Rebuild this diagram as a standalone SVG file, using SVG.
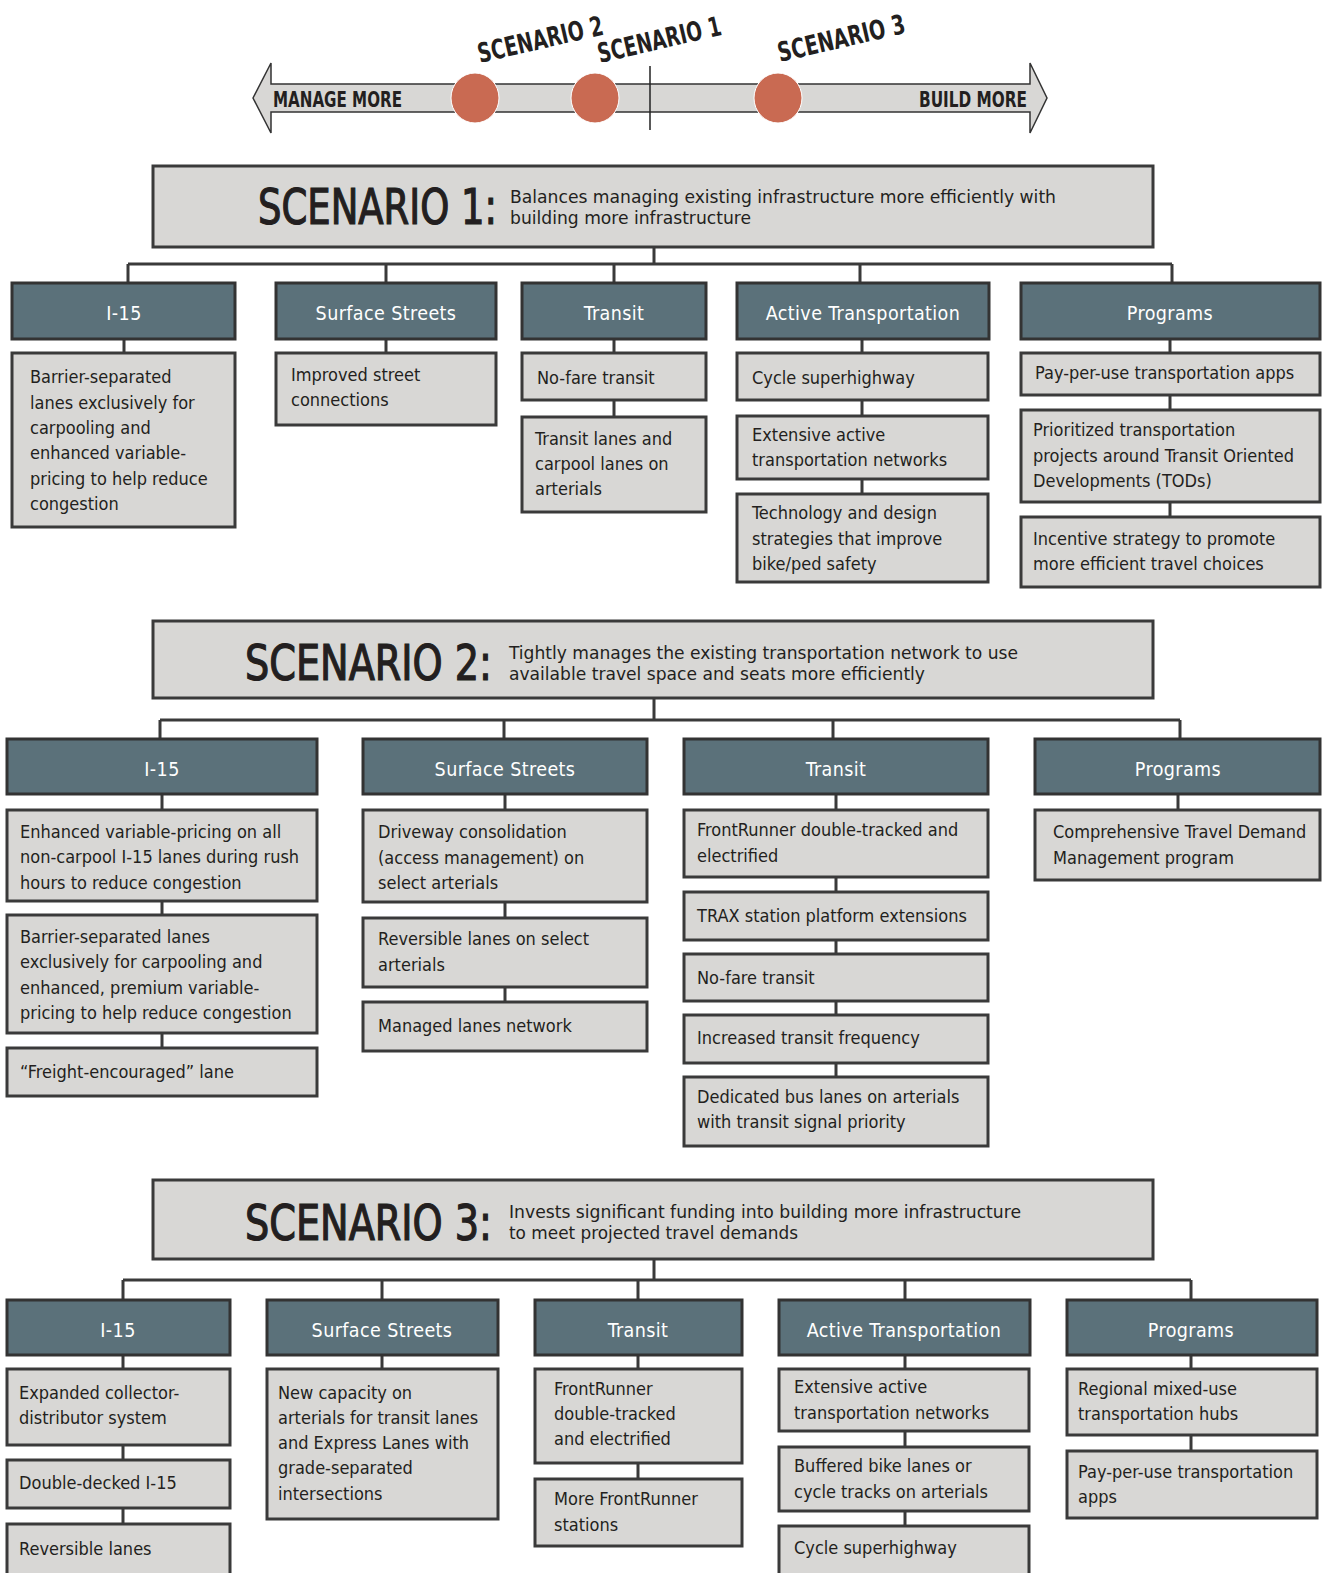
<svg xmlns="http://www.w3.org/2000/svg" width="1326" height="1573" viewBox="0 0 1326 1573">
<style>
text{font-family:"Liberation Sans Narrow","DejaVu Sans Condensed","Roboto Condensed",sans-serif;fill:#231f20}
.it rect{fill:#d8d7d5;stroke:#3a3a3a;stroke-width:3}
.it text{font-size:18px}
.hd rect{fill:#5b717a;stroke:#333;stroke-width:3}
.hd text{font-size:19.5px;fill:#fff;text-anchor:middle;letter-spacing:0.4px}
.sc rect{fill:#d8d7d5;stroke:#3a3a3a;stroke-width:3}
.big{font-size:49px;stroke:#231f20;stroke-width:1.2px}
.desc{font-size:17px}
#connectors path{stroke:#3a3a3a;stroke-width:3;fill:none}
.lab{font-size:27px;font-weight:bold}
</style>
<rect width="1326" height="1573" fill="#fff"/>
<g id="scale">
<path d="M253,98 L271,63 L271,84 L1030,84 L1030,63 L1047,98 L1030,133 L1030,112 L271,112 L271,133 Z" fill="#d8d7d5" stroke="#333" stroke-width="1.5"/>
<line x1="650" y1="66" x2="650" y2="130" stroke="#222" stroke-width="1.5"/>
<ellipse cx="475" cy="98" rx="24" ry="25" fill="#c96a52" stroke="#fff" stroke-width="1"/>
<ellipse cx="595" cy="98" rx="24" ry="25" fill="#c96a52" stroke="#fff" stroke-width="1"/>
<ellipse cx="778" cy="98" rx="24" ry="25" fill="#c96a52" stroke="#fff" stroke-width="1"/>
<text x="273" y="107" font-size="21" font-weight="bold" textLength="129" lengthAdjust="spacingAndGlyphs">MANAGE MORE</text>
<text x="919" y="107" font-size="21" font-weight="bold" textLength="108" lengthAdjust="spacingAndGlyphs">BUILD MORE</text>
<text class="lab" transform="translate(480,63) rotate(-13)" textLength="128" lengthAdjust="spacingAndGlyphs">SCENARIO 2</text>
<text class="lab" transform="translate(600,63) rotate(-13)" textLength="126" lengthAdjust="spacingAndGlyphs">SCENARIO 1</text>
<text class="lab" transform="translate(780,62) rotate(-13)" textLength="130" lengthAdjust="spacingAndGlyphs">SCENARIO 3</text>
</g>
<g id="connectors">
<path d="M654,247 V264 M128,264 H1172 M128,264 V283 M386,264 V283 M614,264 V283 M860,264 V283 M1172,264 V283"/>
<path d="M124,339 V353 M386,339 V353 M614,339 V353 M614,400 V417 M862,339 V353 M862,400 V416 M862,479 V494 M1170,339 V353 M1170,395 V410 M1170,502 V517"/>
<path d="M654,698 V720 M160,720 H1180 M160,720 V739 M504,720 V739 M833,720 V739 M1180,720 V739"/>
<path d="M162,794 V810 M162,901 V915 M162,1033 V1048 M505,794 V810 M505,902 V918 M505,987 V1002 M836,794 V810 M836,877 V892 M836,940 V954 M836,1001 V1015 M836,1063 V1077 M1178,794 V810"/>
<path d="M654,1259 V1280 M123,1280 H1191 M123,1280 V1300 M382,1280 V1300 M638,1280 V1300 M905,1280 V1300 M1191,1280 V1300"/>
<path d="M123,1355 V1369 M123,1445 V1460 M123,1508 V1524 M382,1355 V1369 M638,1355 V1369 M638,1463 V1479 M905,1355 V1369 M905,1431 V1447 M905,1511 V1526 M1191,1355 V1369 M1191,1435 V1451"/>
</g>
<!-- Scenario 1 -->
<g id="s1" class="sc"><rect x="153" y="166" width="1000" height="81"/>
<text class="big" x="258" y="224" textLength="239" lengthAdjust="spacingAndGlyphs">SCENARIO 1:</text>
<text class="desc" x="510" y="203" textLength="546" lengthAdjust="spacingAndGlyphs">Balances managing existing infrastructure more efficiently with</text>
<text class="desc" x="510" y="224" textLength="241" lengthAdjust="spacingAndGlyphs">building more infrastructure</text></g>
<g id="s1-h-i15" class="hd"><rect x="12" y="283" width="223" height="56"/><text x="124" y="320">I-15</text></g>
<g id="s1-h-ss" class="hd"><rect x="276" y="283" width="220" height="56"/><text x="386" y="320">Surface Streets</text></g>
<g id="s1-h-tr" class="hd"><rect x="522" y="283" width="184" height="56"/><text x="614" y="320">Transit</text></g>
<g id="s1-h-at" class="hd"><rect x="737" y="283" width="252" height="56"/><text x="863" y="320">Active Transportation</text></g>
<g id="s1-h-pr" class="hd"><rect x="1021" y="283" width="299" height="56"/><text x="1170" y="320">Programs</text></g>
<g id="s1-i15-1" class="it"><rect x="12" y="353" width="223" height="174"/><text x="30" y="383">Barrier-separated<tspan x="30" y="409">lanes exclusively for</tspan><tspan x="30" y="434">carpooling and</tspan><tspan x="30" y="459">enhanced variable-</tspan><tspan x="30" y="485">pricing to help reduce</tspan><tspan x="30" y="510">congestion</tspan></text></g>
<g id="s1-ss-1" class="it"><rect x="276" y="353" width="220" height="72"/><text x="291" y="381">Improved street<tspan x="291" y="406">connections</tspan></text></g>
<g id="s1-tr-1" class="it"><rect x="522" y="353" width="184" height="47"/><text x="537" y="384">No-fare transit</text></g>
<g id="s1-tr-2" class="it"><rect x="522" y="417" width="184" height="95"/><text x="535" y="445">Transit lanes and<tspan x="535" y="470">carpool lanes on</tspan><tspan x="535" y="495">arterials</tspan></text></g>
<g id="s1-at-1" class="it"><rect x="737" y="353" width="251" height="47"/><text x="752" y="384">Cycle superhighway</text></g>
<g id="s1-at-2" class="it"><rect x="737" y="416" width="251" height="63"/><text x="752" y="441">Extensive active<tspan x="752" y="466">transportation networks</tspan></text></g>
<g id="s1-at-3" class="it"><rect x="737" y="494" width="251" height="88"/><text x="752" y="519">Technology and design<tspan x="752" y="545">strategies that improve</tspan><tspan x="752" y="570">bike/ped safety</tspan></text></g>
<g id="s1-pr-1" class="it"><rect x="1021" y="353" width="299" height="42"/><text x="1035" y="379">Pay-per-use transportation apps</text></g>
<g id="s1-pr-2" class="it"><rect x="1021" y="410" width="299" height="92"/><text x="1033" y="436">Prioritized transportation<tspan x="1033" y="462">projects around Transit Oriented</tspan><tspan x="1033" y="487">Developments (TODs)</tspan></text></g>
<g id="s1-pr-3" class="it"><rect x="1021" y="517" width="299" height="70"/><text x="1033" y="545">Incentive strategy to promote<tspan x="1033" y="570">more efficient travel choices</tspan></text></g>
<!-- Scenario 2 -->
<g id="s2" class="sc"><rect x="153" y="621" width="1000" height="77"/>
<text class="big" x="245" y="680" textLength="247" lengthAdjust="spacingAndGlyphs">SCENARIO 2:</text>
<text class="desc" x="509" y="659" textLength="509" lengthAdjust="spacingAndGlyphs">Tightly manages the existing transportation network to use</text>
<text class="desc" x="509" y="680" textLength="416" lengthAdjust="spacingAndGlyphs">available travel space and seats more efficiently</text></g>
<g id="s2-h-i15" class="hd"><rect x="7" y="739" width="310" height="55"/><text x="162" y="776">I-15</text></g>
<g id="s2-h-ss" class="hd"><rect x="363" y="739" width="284" height="55"/><text x="505" y="776">Surface Streets</text></g>
<g id="s2-h-tr" class="hd"><rect x="684" y="739" width="304" height="55"/><text x="836" y="776">Transit</text></g>
<g id="s2-h-pr" class="hd"><rect x="1035" y="739" width="285" height="55"/><text x="1178" y="776">Programs</text></g>
<g id="s2-i15-1" class="it"><rect x="7" y="810" width="310" height="91"/><text x="20" y="838">Enhanced variable-pricing on all<tspan x="20" y="863">non-carpool I-15 lanes during rush</tspan><tspan x="20" y="889">hours to reduce congestion</tspan></text></g>
<g id="s2-i15-2" class="it"><rect x="7" y="915" width="310" height="118"/><text x="20" y="943">Barrier-separated lanes<tspan x="20" y="968">exclusively for carpooling and</tspan><tspan x="20" y="994">enhanced, premium variable-</tspan><tspan x="20" y="1019">pricing to help reduce congestion</tspan></text></g>
<g id="s2-i15-3" class="it"><rect x="7" y="1048" width="310" height="48"/><text x="20" y="1078">“Freight-encouraged” lane</text></g>
<g id="s2-ss-1" class="it"><rect x="363" y="810" width="284" height="92"/><text x="378" y="838">Driveway consolidation<tspan x="378" y="864">(access management) on</tspan><tspan x="378" y="889">select arterials</tspan></text></g>
<g id="s2-ss-2" class="it"><rect x="363" y="918" width="284" height="69"/><text x="378" y="945">Reversible lanes on select<tspan x="378" y="971">arterials</tspan></text></g>
<g id="s2-ss-3" class="it"><rect x="363" y="1002" width="284" height="49"/><text x="378" y="1032">Managed lanes network</text></g>
<g id="s2-tr-1" class="it"><rect x="684" y="810" width="304" height="67"/><text x="697" y="836">FrontRunner double-tracked and<tspan x="697" y="862">electrified</tspan></text></g>
<g id="s2-tr-2" class="it"><rect x="684" y="892" width="304" height="48"/><text x="697" y="922">TRAX station platform extensions</text></g>
<g id="s2-tr-3" class="it"><rect x="684" y="954" width="304" height="47"/><text x="697" y="984">No-fare transit</text></g>
<g id="s2-tr-4" class="it"><rect x="684" y="1015" width="304" height="48"/><text x="697" y="1044">Increased transit frequency</text></g>
<g id="s2-tr-5" class="it"><rect x="684" y="1077" width="304" height="69"/><text x="697" y="1103">Dedicated bus lanes on arterials<tspan x="697" y="1128">with transit signal priority</tspan></text></g>
<g id="s2-pr-1" class="it"><rect x="1035" y="810" width="285" height="70"/><text x="1053" y="838">Comprehensive Travel Demand<tspan x="1053" y="864">Management program</tspan></text></g>
<!-- Scenario 3 -->
<g id="s3" class="sc"><rect x="153" y="1180" width="1000" height="79"/>
<text class="big" x="245" y="1240" textLength="247" lengthAdjust="spacingAndGlyphs">SCENARIO 3:</text>
<text class="desc" x="509" y="1218" textLength="512" lengthAdjust="spacingAndGlyphs">Invests significant funding into building more infrastructure</text>
<text class="desc" x="509" y="1239" textLength="289" lengthAdjust="spacingAndGlyphs">to meet projected travel demands</text></g>
<g id="s3-h-i15" class="hd"><rect x="7" y="1300" width="223" height="55"/><text x="118" y="1337">I-15</text></g>
<g id="s3-h-ss" class="hd"><rect x="267" y="1300" width="231" height="55"/><text x="382" y="1337">Surface Streets</text></g>
<g id="s3-h-tr" class="hd"><rect x="535" y="1300" width="207" height="55"/><text x="638" y="1337">Transit</text></g>
<g id="s3-h-at" class="hd"><rect x="779" y="1300" width="251" height="55"/><text x="904" y="1337">Active Transportation</text></g>
<g id="s3-h-pr" class="hd"><rect x="1067" y="1300" width="250" height="55"/><text x="1191" y="1337">Programs</text></g>
<g id="s3-i15-1" class="it"><rect x="7" y="1369" width="223" height="76"/><text x="19" y="1399">Expanded collector-<tspan x="19" y="1424">distributor system</tspan></text></g>
<g id="s3-i15-2" class="it"><rect x="7" y="1460" width="223" height="48"/><text x="19" y="1489">Double-decked I-15</text></g>
<g id="s3-i15-3" class="it"><rect x="7" y="1524" width="223" height="60"/><text x="19" y="1555">Reversible lanes</text></g>
<g id="s3-ss-1" class="it"><rect x="267" y="1369" width="231" height="150"/><text x="278" y="1399">New capacity on<tspan x="278" y="1424">arterials for transit lanes</tspan><tspan x="278" y="1449">and Express Lanes with</tspan><tspan x="278" y="1474">grade-separated</tspan><tspan x="278" y="1500">intersections</tspan></text></g>
<g id="s3-tr-1" class="it"><rect x="535" y="1369" width="207" height="94"/><text x="554" y="1395">FrontRunner<tspan x="554" y="1420">double-tracked</tspan><tspan x="554" y="1445">and electrified</tspan></text></g>
<g id="s3-tr-2" class="it"><rect x="535" y="1479" width="207" height="67"/><text x="554" y="1505">More FrontRunner<tspan x="554" y="1531">stations</tspan></text></g>
<g id="s3-at-1" class="it"><rect x="779" y="1369" width="250" height="62"/><text x="794" y="1393">Extensive active<tspan x="794" y="1419">transportation networks</tspan></text></g>
<g id="s3-at-2" class="it"><rect x="779" y="1447" width="250" height="64"/><text x="794" y="1472">Buffered bike lanes or<tspan x="794" y="1498">cycle tracks on arterials</tspan></text></g>
<g id="s3-at-3" class="it"><rect x="779" y="1526" width="250" height="60"/><text x="794" y="1554">Cycle superhighway</text></g>
<g id="s3-pr-1" class="it"><rect x="1067" y="1369" width="250" height="66"/><text x="1078" y="1395">Regional mixed-use<tspan x="1078" y="1420">transportation hubs</tspan></text></g>
<g id="s3-pr-2" class="it"><rect x="1067" y="1451" width="250" height="67"/><text x="1078" y="1478">Pay-per-use transportation<tspan x="1078" y="1503">apps</tspan></text></g>
</svg>
